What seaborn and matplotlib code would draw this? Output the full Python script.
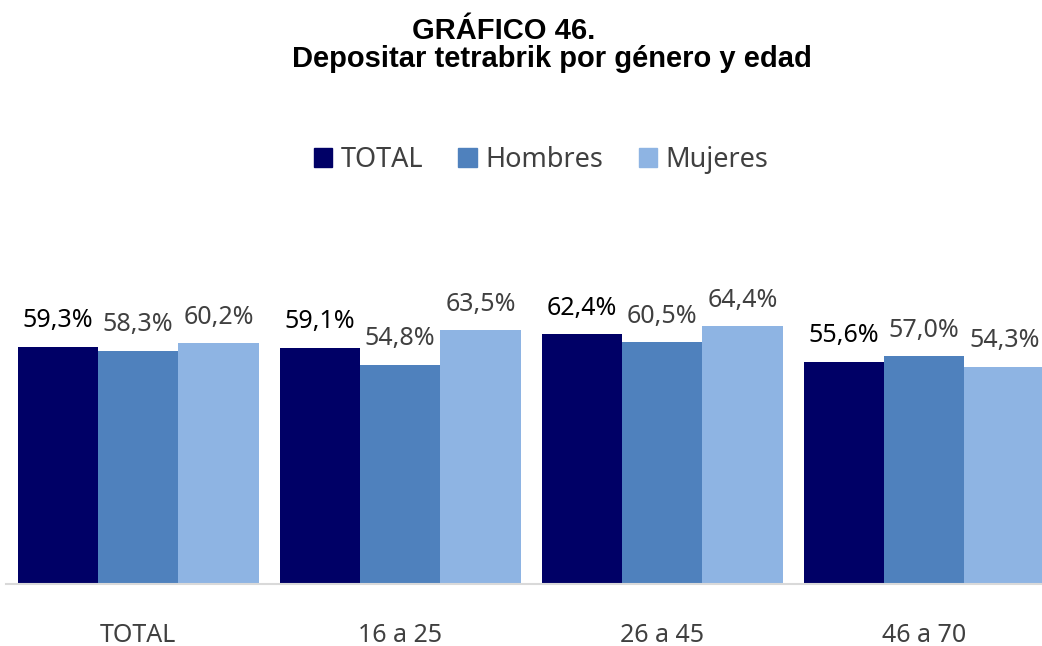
import matplotlib
matplotlib.use("Agg")
import matplotlib.pyplot as plt
import seaborn as sns
import pandas as pd

categories = ["TOTAL", "16 a 25", "26 a 45", "46 a 70"]
series = ["TOTAL", "Hombres", "Mujeres"]
total_vals = [59.3, 59.1, 62.4, 55.6]
hombres_vals = [58.3, 54.8, 60.5, 57.0]
mujeres_vals = [60.2, 63.5, 64.4, 54.3]

colors = ["#000066", "#4F81BD", "#8EB4E3"]
label_colors = ["#000000", "#404040", "#404040"]

sns.set_theme(style="white")
plt.rcParams["font.family"] = ["Noto Sans", "DejaVu Sans"]

rows = []
for s, vals in zip(series, [total_vals, hombres_vals, mujeres_vals]):
    for c, v in zip(categories, vals):
        rows.append({"grupo": c, "serie": s, "valor": v})
df = pd.DataFrame(rows)

fig = plt.figure(figsize=(10.42, 6.46), dpi=100)
ax = fig.add_axes([6 / 1042, 62 / 646, 1036 / 1042, 360 / 646])

sns.barplot(data=df, x="grupo", y="valor", hue="serie", order=categories,
            hue_order=series, palette=colors, width=0.92, saturation=1,
            linewidth=0, ax=ax, legend=False)

ax.set_ylim(0, 90)
ax.set_xlim(-0.504, 3.45)
ax.set_xlabel("")
ax.set_ylabel("")
ax.set_yticks([])
for side in ["top", "right", "left"]:
    ax.spines[side].set_visible(False)
ax.spines["bottom"].set_color("#D9D9D9")
ax.spines["bottom"].set_linewidth(1.5)
ax.tick_params(axis="x", length=0, pad=28, labelsize=18, labelcolor="#404040")

for container, lc in zip(ax.containers, label_colors):
    labels = [f"{b.get_height():.1f}%".replace(".", ",") for b in container]
    for bar, lab in zip(container, labels):
        ax.annotate(lab, (bar.get_x() + bar.get_width() / 2, bar.get_height()),
                    xytext=(0, 14), textcoords="offset points",
                    ha="center", va="baseline", fontsize=18, color=lc)

handles = [plt.Rectangle((0, 0), 1, 1, color=c) for c in colors]
fig.legend(handles, series, loc="center", bbox_to_anchor=(541 / 1042, 1 - 160 / 646),
           ncol=3, frameon=False, fontsize=19.5, handlelength=0.7, handleheight=0.7,
           handletextpad=0.3, columnspacing=1.3, labelcolor="#404040")

fig.text(504 / 1042, 1 - 31 / 646, "GRÁFICO 46.", ha="center", va="center",
         fontsize=21, fontweight="bold", family="Liberation Sans", color="black")
fig.text(552 / 1042, 1 - 59 / 646, "Depositar tetrabrik por género y edad",
         ha="center", va="center", fontsize=21, fontweight="bold",
         family="Liberation Sans", color="black")

fig.savefig("out.png", dpi=100)
plt.close()
